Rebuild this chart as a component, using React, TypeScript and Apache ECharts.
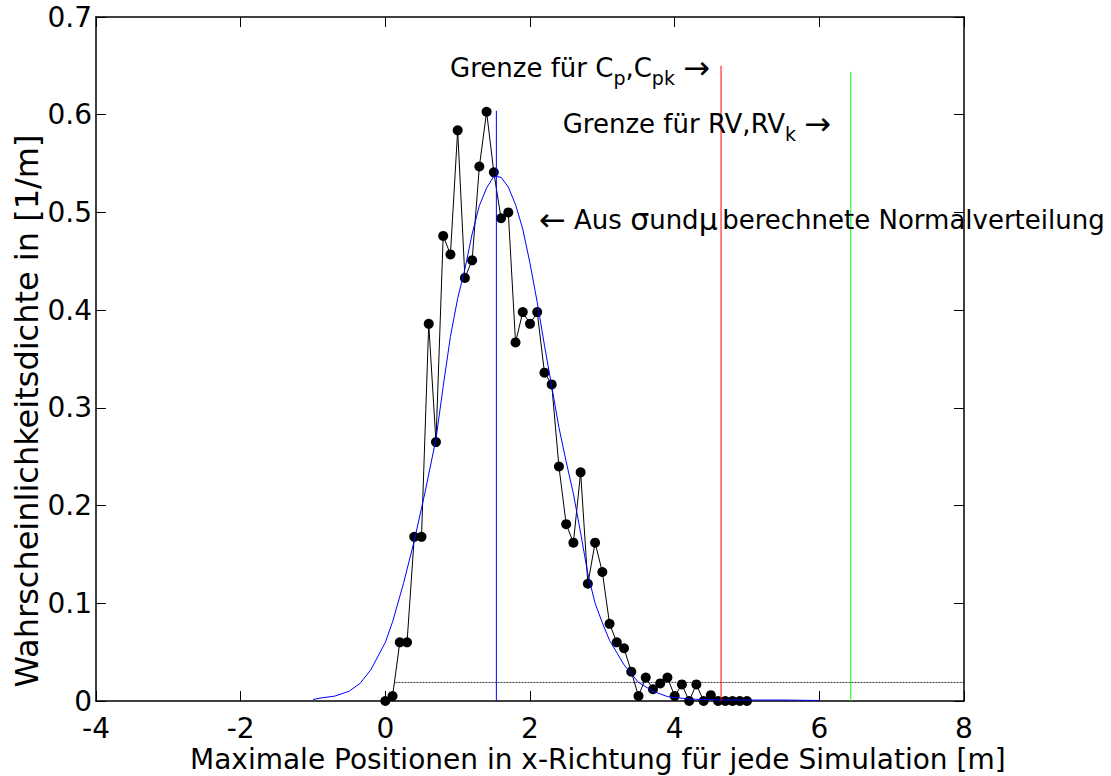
import React, { useEffect, useRef } from "react";
import * as echarts from "echarts";

// Histogram-like empirical density (x in m, density in 1/m)
const histX = [
  0.0, 0.1, 0.2, 0.3, 0.4, 0.5, 0.6, 0.7, 0.8, 0.9,
  1.0, 1.1, 1.2, 1.3, 1.4, 1.5, 1.6, 1.7, 1.8, 1.9,
  2.0, 2.1, 2.2, 2.3, 2.4, 2.5, 2.6, 2.7, 2.8, 2.9,
  3.0, 3.1, 3.2, 3.3, 3.4, 3.5, 3.6, 3.7, 3.8, 3.9,
  4.0, 4.1, 4.2, 4.3, 4.4, 4.5, 4.6, 4.7, 4.8, 4.9, 5.0,
];
const histY = [
  0.0, 0.005, 0.06, 0.06, 0.168, 0.168, 0.386, 0.265, 0.476, 0.457,
  0.584, 0.433, 0.451, 0.547, 0.603, 0.541, 0.494, 0.5, 0.367, 0.398,
  0.386, 0.398, 0.336, 0.324, 0.24, 0.181, 0.162, 0.234, 0.12, 0.162,
  0.132, 0.079, 0.06, 0.054, 0.03, 0.005, 0.024, 0.012, 0.018, 0.024,
  0.005, 0.017, 0.0, 0.017, 0.0, 0.006, 0.0, 0.0, 0.0, 0.0, 0.0,
];

// Normal distribution curve
const normX = [
  -1.0, -0.9, -0.7, -0.5, -0.35, -0.2, -0.1, 0.0, 0.1, 0.25, 0.4, 0.55, 0.7, 0.8,
  0.9, 1.0, 1.1, 1.2, 1.3, 1.4, 1.5, 1.6, 1.7, 1.8, 1.9, 2.0, 2.1, 2.2, 2.3,
  2.4, 2.5, 2.6, 2.7, 2.8, 2.9, 3.0, 3.1, 3.3, 3.5, 3.7, 3.9, 4.2, 4.6, 5.5, 6.0,
];
const normY = [
  0.0015, 0.003, 0.005, 0.01, 0.018, 0.032, 0.046, 0.06, 0.081, 0.12, 0.164, 0.214, 0.268, 0.322,
  0.373, 0.412, 0.442, 0.478, 0.507, 0.525, 0.537, 0.536, 0.526, 0.508, 0.483, 0.448, 0.408, 0.364, 0.322,
  0.28, 0.245, 0.212, 0.172, 0.13, 0.1, 0.08, 0.062, 0.037, 0.019, 0.01, 0.0045, 0.002, 0.001, 0.001, 0.0005,
];

// Vertical marker lines [x, top]
const muLine = [1.535, 0.604];
const cpLine = [4.641, 0.65];
const rvLine = [6.435, 0.644];
// Dotted horizontal line [y, xStart, xEnd]
const tolLine = [0.019, 0.14, 8];

const xMin = -4, xMax = 8, xStep = 2;
const yMin = 0, yMax = 0.7, yStep = 0.1;

const xLabel = "Maximale Positionen in x-Richtung für jede Simulation [m]";
const yLabel = "Wahrscheinlichkeitsdichte in [1/m]";

const FONT = "DejaVu Sans";

export default function App() {
  const ref = useRef<HTMLDivElement>(null);
  useEffect(() => {
    const chart = echarts.init(ref.current!, null, { renderer: "svg" });
    const axisLine = { show: true, onZero: false, lineStyle: { color: "#000", width: 1.5 } };
    const tick = { show: true, inside: true, length: 10, lineStyle: { color: "#000", width: 1 } };
    const nRich = { fontSize: 26, fontFamily: FONT, lineHeight: 40, verticalAlign: "middle", fill: "#000" };
    const sRich = { fontSize: 19, fontFamily: FONT, lineHeight: 23, verticalAlign: "bottom", fill: "#000" };
    const gRich = { fontSize: 30, fontFamily: FONT, lineHeight: 40, verticalAlign: "middle", fill: "#000" };
    const aRich = { fontSize: 32, fontFamily: FONT, lineHeight: 40, verticalAlign: "middle", fill: "#000" };
    const spRich = { fontSize: 14, fontFamily: FONT, lineHeight: 40, verticalAlign: "middle", fill: "#000" };
    const option: any = {
      animation: false,
      backgroundColor: "#fff",
      grid: { left: 96, top: 17, right: 147, bottom: 75, containLabel: false, outerBoundsMode: "none" },
      xAxis: [
        {
          type: "value", min: xMin, max: xMax, interval: xStep, position: "bottom",
          axisLine, axisTick: tick, splitLine: { show: false },
          axisLabel: { color: "#000", fontSize: 28, fontFamily: FONT, margin: 13 },
        },
        {
          type: "value", min: xMin, max: xMax, interval: xStep, position: "top",
          axisLine, axisTick: tick, splitLine: { show: false }, axisLabel: { show: false },
        },
      ],
      yAxis: [
        {
          type: "value", min: yMin, max: yMax, interval: yStep, position: "left",
          axisLine, axisTick: tick, splitLine: { show: false },
          axisLabel: { color: "#000", fontSize: 28, fontFamily: FONT, margin: 4, padding: [6, 0, 0, 0] },
        },
        {
          type: "value", min: yMin, max: yMax, interval: yStep, position: "right",
          axisLine, axisTick: tick, splitLine: { show: false }, axisLabel: { show: false },
        },
      ],
      series: [
        {
          type: "line", name: "hist", xAxisIndex: 0, yAxisIndex: 0,
          data: histX.map((x, i) => [x, histY[i]]),
          symbol: "circle", symbolSize: 10, showAllSymbol: true,
          itemStyle: { color: "#000" }, lineStyle: { color: "#000", width: 1 }, z: 3,
        },
        {
          type: "line", name: "normal",
          data: normX.map((x, i) => [x, normY[i]]),
          showSymbol: false, symbol: "none", lineStyle: { color: "#0000ff", width: 1 }, z: 4,
        },
        {
          type: "line", name: "mu", data: [[muLine[0], 0], [muLine[0], muLine[1]]],
          symbol: "none", lineStyle: { color: "#0000ff", width: 1 }, z: 4,
        },
        {
          type: "line", name: "cp", data: [[cpLine[0], 0], [cpLine[0], cpLine[1]]],
          symbol: "none", lineStyle: { color: "#ff0000", width: 1 }, z: 4,
        },
        {
          type: "line", name: "rv", data: [[rvLine[0], 0], [rvLine[0], rvLine[1]]],
          symbol: "none", lineStyle: { color: "#00ff00", width: 1 }, z: 4,
        },
        {
          type: "line", name: "tol", data: [[tolLine[1], tolLine[0]], [tolLine[2], tolLine[0]]],
          symbol: "none", lineStyle: { color: "#000", width: 0.8, type: [2, 1] }, z: 2,
        },
      ],
      graphic: [
        {
          type: "text", x: 190, y: 759.6, z: 10,
          style: { text: xLabel, fontSize: 28, fontFamily: FONT, fill: "#000", align: "left", verticalAlign: "middle" },
        },
        {
          type: "text", x: 27, y: 411, rotation: Math.PI / 2, z: 10,
          style: { text: yLabel, fontSize: 32, fontFamily: FONT, fill: "#000", align: "center", verticalAlign: "middle" },
        },
        {
          type: "text", x: 450, y: 47.7, z: 10,
          style: {
            text: "{n|Grenze für C}{s|p}{n|,C}{s|pk}{n| }{a|→}",
            rich: { n: nRich, s: sRich, a: aRich }, align: "left", verticalAlign: "top",
          },
        },
        {
          type: "text", x: 562.7, y: 103.7, z: 10,
          style: {
            text: "{n|Grenze für RV,RV}{s|k}{n| }{a|→}",
            rich: { n: nRich, s: sRich, a: aRich }, align: "left", verticalAlign: "top",
          },
        },
        {
          type: "text", x: 539, y: 199.5, z: 10,
          style: {
            text: "{a|←}{n| Aus }{g|σ}{n|und}{g|μ}{sp| }{n|berechnete Normalverteilung}",
            rich: { n: nRich, g: gRich, sp: spRich, a: aRich }, align: "left", verticalAlign: "top",
          },
        },
      ],
    };
    chart.setOption(option);
    return () => chart.dispose();
  }, []);
  return (
    <div
      ref={ref}
      style={{ position: "fixed", left: 0, top: 0, width: 1111, height: 776, background: "#fff" }}
    />
  );
}
